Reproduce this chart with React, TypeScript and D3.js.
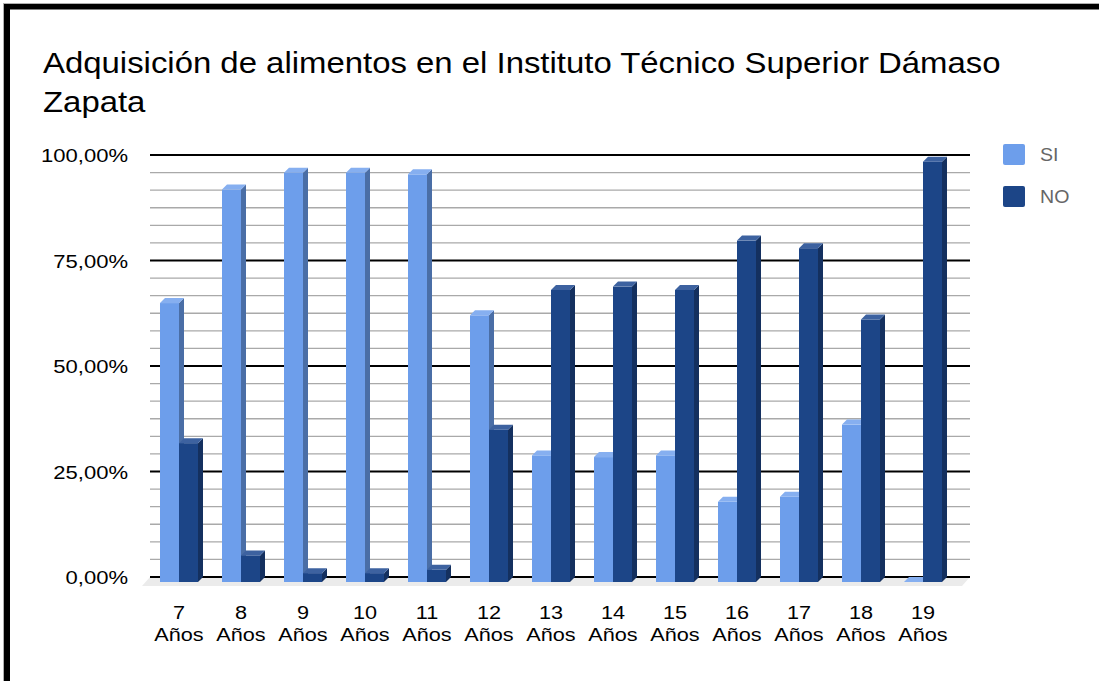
import React from "react";
import * as d3 from "d3";

const categories = ["7", "8", "9", "10", "11", "12", "13", "14", "15", "16", "17", "18", "19"];
const siValues = [66.1, 93.0, 97.0, 97.0, 96.6, 63.2, 30.0, 29.6, 30.0, 19.0, 20.2, 37.3, 0];
const noValues = [32.9, 6.3, 2.1, 2.1, 2.9, 36.1, 69.2, 70.0, 69.2, 80.9, 79.1, 62.2, 99.6];
const yTicks = [0, 25, 50, 75, 100];
const seriesNames = ["SI", "NO"];

const W = 1099;
const H = 681;
const FONT = "'Liberation Sans', Arial, sans-serif";

const colors = {
  SI: { front: "#6d9eeb", side: "#4a6ea6", top: "#86aff0" },
  NO: { front: "#1c4587", side: "#14305f", top: "#3d62a0" },
};

export default function App() {
  const x = d3.scaleBand<string>().domain(categories).range([148, 954]).paddingInner(0).paddingOuter(0);
  const y = d3.scaleLinear().domain([0, 100]).range([577, 155]);
  const minorTicks = d3.range(0, 100.0001, 25 / 6);
  const barW = 19;
  const dx = 5;
  const dy = -5;
  const off = 5; // front plane offset below gridline plane

  const bar3d = (x0: number, v: number, c: { front: string; side: string; top: string }, key: string) => {
    const base = y(0) + off;
    const top = y(v) + off;
    const x1 = x0 + barW;
    return (
      <g key={key}>
        <polygon points={`${x1},${base} ${x1 + dx},${base + dy} ${x1 + dx},${top + dy} ${x1},${top}`} fill={c.side} />
        <rect x={x0} y={top} width={barW} height={base - top} fill={c.front} />
        <polygon points={`${x0},${top} ${x1},${top} ${x1 + dx},${top + dy} ${x0 + dx},${top + dy}`} fill={c.top} />
      </g>
    );
  };

  return (
    <div style={{ position: "fixed", left: 0, top: 0, width: W, height: H, background: "#fff" }}>
      <svg width={W} height={H} style={{ display: "block", fontFamily: FONT }}>
        <rect x={0} y={0} width={W} height={H} fill="#fff" />
        {/* border */}
        <rect x={3} y={3} width={W} height={1} fill="#b0b0b0" />
        <rect x={3} y={3} width={1} height={H} fill="#b0b0b0" />
        <rect x={4} y={4} width={W} height={5.5} fill="#000" />
        <rect x={4} y={4} width={6} height={H} fill="#000" />

        {/* title */}
        <g transform={`translate(43,73) scale(1.135,1)`}>
          <text x={0} y={0} fontSize={29} fill="#000">
            Adquisición de alimentos en el Instituto Técnico Superior Dámaso
          </text>
          <text x={0} y={39} fontSize={29} fill="#000">
            Zapata
          </text>
        </g>

        {/* floor */}
        <polygon points={`150,577 970,577 962,586 142,586`} fill="#ebebeb" />

        {/* minor grid */}
        {minorTicks.map((t, i) =>
          i % 6 === 0 ? null : (
            <line key={"m" + i} x1={150} x2={970} y1={y(t)} y2={y(t)} stroke="#a9a9a9" strokeWidth={1.4} />
          )
        )}
        {/* major grid */}
        {yTicks.map((t) => (
          <line key={"M" + t} x1={150} x2={970} y1={y(t)} y2={y(t)} stroke="#000" strokeWidth={2} />
        ))}

        {/* y labels */}
        {yTicks.map((t) => (
          <g key={"yl" + t} transform={`translate(128,${y(t) + 7}) scale(1.16,1)`}>
            <text textAnchor="end" fontSize={19} fill="#000">
              {t.toFixed(2).replace(".", ",") + "%"}
            </text>
          </g>
        ))}

        {/* bars */}
        {categories.map((c, i) => {
          const cx = (x(c) as number) + x.bandwidth() / 2;
          return (
            <g key={"b" + c}>
              {bar3d(cx - barW, siValues[i], colors.SI, "si")}
              {bar3d(cx, noValues[i], colors.NO, "no")}
            </g>
          );
        })}

        {/* x labels */}
        {categories.map((c) => {
          const cx = (x(c) as number) + x.bandwidth() / 2;
          return (
            <g key={"xl" + c} transform={`translate(${cx},0) scale(1.14,1)`}>
              <text x={0} y={619} textAnchor="middle" fontSize={19} fill="#000">
                {c}
              </text>
              <text x={0} y={641} textAnchor="middle" fontSize={19} fill="#000">
                Años
              </text>
            </g>
          );
        })}

        {/* legend */}
        {seriesNames.map((s, i) => (
          <g key={"lg" + s}>
            <rect x={1003} y={144 + i * 42} width={22} height={21} rx={2} fill={colors[s as "SI" | "NO"].front} />
            <g transform={`translate(1040,${161 + i * 42}) scale(1.12,1)`}>
              <text fontSize={17.5} fill="#666">
                {s}
              </text>
            </g>
          </g>
        ))}
      </svg>
    </div>
  );
}
